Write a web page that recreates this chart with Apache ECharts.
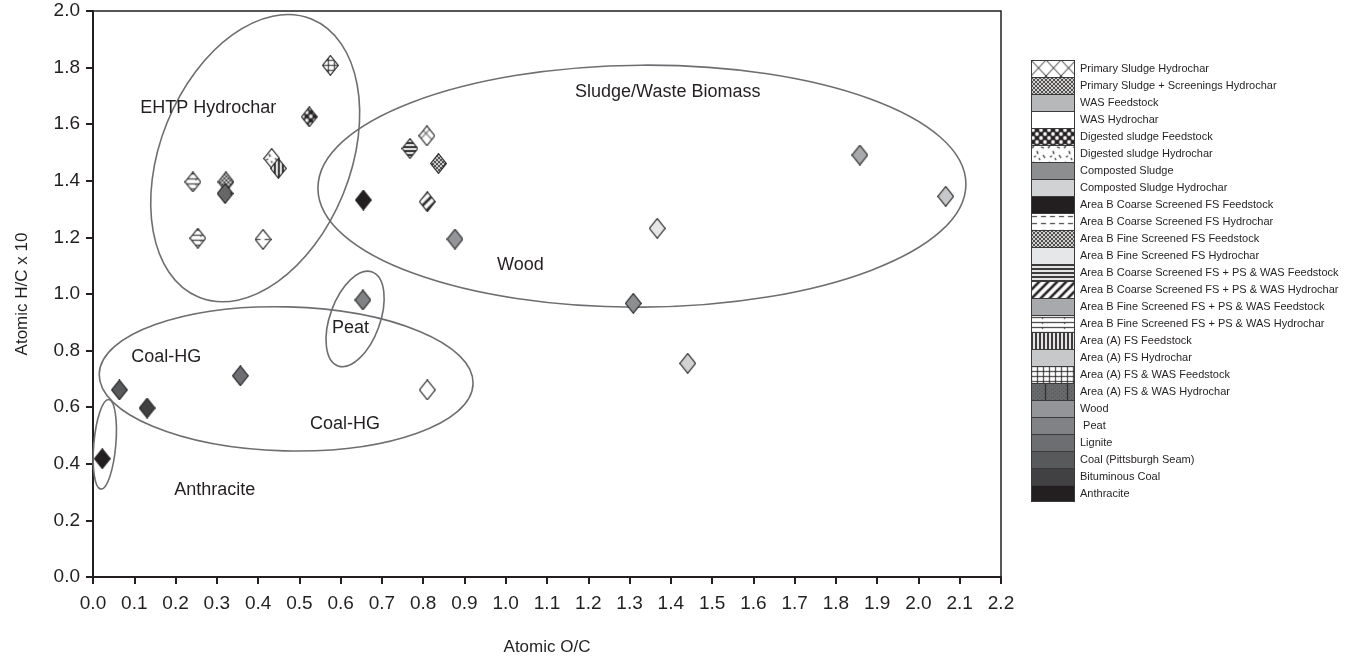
<!DOCTYPE html>
<html><head><meta charset="utf-8">
<script src="https://cdn.jsdelivr.net/npm/echarts@6/dist/echarts.min.js"></script>
<style>html,body{margin:0;padding:0;background:#fff}#c{width:1372px;height:662px}</style>
</head><body><div id="c"></div>
<script>
// ---------------- DATA ----------------
const seriesNames = [
  'Primary Sludge Hydrochar',
  'Primary Sludge + Screenings Hydrochar',
  'WAS Feedstock',
  'WAS Hydrochar',
  'Digested sludge Feedstock',
  'Digested sludge Hydrochar',
  'Composted Sludge',
  'Composted Sludge Hydrochar',
  'Area B Coarse Screened FS Feedstock',
  'Area B Coarse Screened FS Hydrochar',
  'Area B Fine Screened FS Feedstock',
  'Area B Fine Screened FS Hydrochar',
  'Area B Coarse Screened FS + PS & WAS Feedstock',
  'Area B Coarse Screened FS + PS & WAS Hydrochar',
  'Area B Fine Screened FS + PS & WAS Feedstock',
  'Area B Fine Screened FS + PS & WAS Hydrochar',
  'Area (A) FS Feedstock',
  'Area (A) FS Hydrochar',
  'Area (A) FS & WAS Feedstock',
  'Area (A) FS & WAS Hydrochar',
  'Wood',
  ' Peat',
  'Lignite',
  'Coal (Pittsburgh Seam)',
  'Bituminous Coal',
  'Anthracite'
];
// each point: which series it belongs to, atomic O/C, atomic H/C
const pointSeries = [0, 1, 3, 4, 5, 6, 7, 8, 9, 10, 11, 12, 13, 14, 15, 15, 16, 17, 18, 19, 20, 21, 22, 23, 24, 25];
const pointOC = [0.809, 0.322, 0.810, 0.524, 0.433, 1.309, 1.441, 0.655, 0.412, 0.837, 1.367, 0.768, 0.810, 1.858, 0.242, 0.254, 0.449, 2.066, 0.575, 0.320, 0.877, 0.654, 0.357, 0.064, 0.131, 0.0225];
const pointHC = [1.559, 1.396, 0.661, 1.626, 1.479, 0.967, 0.755, 1.332, 1.193, 1.461, 1.232, 1.514, 1.326, 1.491, 1.396, 1.197, 1.444, 1.345, 1.808, 1.355, 1.194, 0.979, 0.711, 0.661, 0.597, 0.418];

// region annotations (data coordinates)
const regionLabels = ['EHTP Hydrochar', 'Sludge/Waste Biomass', 'Wood', 'Peat', 'Coal-HG', 'Coal-HG', 'Anthracite'];
const regionLabelOC = [0.1145, 1.168, 0.979, 0.579, 0.0927, 0.526, 0.197];
const regionLabelHC = [1.657, 1.713, 1.102, 0.880, 0.776, 0.541, 0.307];

const ellipseOC = [0.393, 1.330, 0.635, 0.468, 0.0286];
const ellipseHC = [1.480, 1.381, 0.912, 0.700, 0.469];

const xTicks = {min: 0, max: 2.2, interval: 0.1};
const yTicks = {min: 0, max: 2.0, interval: 0.2};

// ---------------- STYLES ----------------
const ellipseStyle = [
  {rx: 95, ry: 150, rot: -22},
  {rx: 324, ry: 121, rot: 0.4},
  {rx: 25, ry: 50, rot: -20},
  {rx: 187, ry: 72, rot: -1.5},
  {rx: 11, ry: 45, rot: -5}
];
const fills = [
  'x', 'checker', '#b7b8ba', '#ffffff', 'dots', 'confetti', '#8d8e90', '#d1d2d4',
  '#231f20', 'dash', 'checker', '#e6e7e8', 'hthick', 'diag', '#a7a9ac', 'hthin',
  'vstripe', '#c7c8ca', 'grid', 'darkstip', '#939598', '#808285', '#6d6e71', '#58595b', '#414042', '#231f20'
];
const INK = '#231f20';
const FONT = 'Liberation Sans, Arial, Helvetica, sans-serif';
const S = 2; // supersampling

function tile(w, h, draw) {
  const c = document.createElement('canvas');
  c.width = w; c.height = h;
  const g = c.getContext('2d');
  draw(g, w, h);
  return c;
}
const tiles = {
  x: tile(15, 16, (g, w, h) => { g.fillStyle = '#fff'; g.fillRect(0,0,w,h); g.strokeStyle = INK; g.lineWidth = 1;
        g.beginPath(); g.moveTo(0,0); g.lineTo(w,h); g.moveTo(w,0); g.lineTo(0,h); g.stroke(); }),
  checker: tile(4, 4, (g) => { g.fillStyle = '#fff'; g.fillRect(0,0,4,4); g.fillStyle = INK; g.fillRect(0,0,2,2); g.fillRect(2,2,2,2); g.fillRect(1,1,1,1); }),
  dots: tile(8, 8, (g) => { g.fillStyle = INK; g.fillRect(0,0,8,8); g.fillStyle = '#fff';
        g.beginPath(); g.arc(2,2,1.9,0,Math.PI*2); g.fill(); g.beginPath(); g.arc(6,6,1.9,0,Math.PI*2); g.fill(); }),
  confetti: tile(16, 16, (g) => { g.fillStyle = '#fff'; g.fillRect(0,0,16,16); g.strokeStyle = INK; g.lineWidth = 1.2;
        const segs = [[1,3,3,1],[6,6,7,9],[10,2,13,3],[12,10,14,13],[3,12,5,11],[8,13,9,15]];
        g.beginPath(); segs.forEach(s => { g.moveTo(s[0],s[1]); g.lineTo(s[2],s[3]); }); g.stroke(); }),
  dash: tile(9, 7, (g) => { g.fillStyle = '#fff'; g.fillRect(0,0,9,7); g.fillStyle = INK; g.fillRect(1,3,5,1); }),
  hthick: tile(1, 4, (g) => { g.fillStyle = '#fff'; g.fillRect(0,0,1,4); g.fillStyle = INK; g.fillRect(0,0,1,2); }),
  diag: tile(9, 9, (g) => { g.fillStyle = '#fff'; g.fillRect(0,0,9,9); g.strokeStyle = INK; g.lineWidth = 2.6;
        g.beginPath(); g.moveTo(-1,10); g.lineTo(10,-1); g.moveTo(-5,5); g.lineTo(5,-5); g.moveTo(4,14); g.lineTo(14,4); g.stroke(); }),
  hthin: tile(22, 5, (g) => { g.fillStyle = '#fff'; g.fillRect(0,0,22,5); g.fillStyle = INK; g.fillRect(0,2,22,1); g.fillRect(11,3,1,1); }),
  vstripe: tile(4, 1, (g) => { g.fillStyle = '#fff'; g.fillRect(0,0,4,1); g.fillStyle = INK; g.fillRect(0,0,2,1); }),
  grid: tile(6, 5, (g) => { g.fillStyle = '#fff'; g.fillRect(0,0,6,5); g.fillStyle = INK; g.fillRect(0,0,6,1); g.fillRect(0,0,1,5); }),
  darkstip: tile(22, 4, (g) => { g.fillStyle = '#6a6b6d'; g.fillRect(0,0,22,4); g.fillStyle = '#4a4b4d';
        for (let i = 0; i < 22; i += 2) { g.fillRect(i, (i/2)%2 ? 0 : 2, 1, 1); } g.fillStyle = INK; g.fillRect(14,0,1,4); })
};
function paintFill(g, kind) {
  if (tiles[kind]) { g.fillStyle = g.createPattern(tiles[kind], 'repeat'); }
  else { g.fillStyle = kind; }
  g.fill();
}
function markerImage(kind) {
  const w = 17, h = 21;
  const c = document.createElement('canvas'); c.width = w*S; c.height = h*S;
  const g = c.getContext('2d'); g.scale(S, S);
  g.beginPath(); g.moveTo(w/2, 0.6); g.lineTo(w-0.6, h/2); g.lineTo(w/2, h-0.6); g.lineTo(0.6, h/2); g.closePath();
  paintFill(g, kind);
  g.strokeStyle = '#262626'; g.lineWidth = 1.1; g.stroke();
  return 'image://' + c.toDataURL();
}
function legendImage(kind, last) {
  const w = 44, h = 17;
  const c = document.createElement('canvas'); c.width = w*S; c.height = h*S;
  const g = c.getContext('2d'); g.scale(S, S);
  g.beginPath(); g.rect(0, 0, w, h);
  paintFill(g, kind);
  g.strokeStyle = '#3a3a3a'; g.lineWidth = 1;
  g.beginPath(); g.moveTo(0.5, h + (last ? -0.5 : 0)); g.lineTo(0.5, 0.5); g.lineTo(w-0.5, 0.5); g.lineTo(w-0.5, h + (last ? -0.5 : 0));
  if (last) g.lineTo(0.5, h-0.5);
  g.stroke();
  return 'image://' + c.toDataURL();
}

// ---------------- CHART ----------------
const chart = echarts.init(document.getElementById('c'), null, {renderer: 'canvas'});

const scatterSeries = seriesNames.map((name, si) => ({
  type: 'scatter',
  name: name,
  symbol: markerImage(fills[si]),
  symbolSize: [17, 21],
  z: 3,
  silent: true,
  itemStyle: {opacity: 1},
  emphasis: {disabled: true},
  data: pointSeries.map((s, k) => s === si ? [pointOC[k], pointHC[k]] : null).filter(d => d)
}));

const ellipseSeries = {
  type: 'custom',
  name: '_ellipses',
  z: 2,
  silent: true,
  data: ellipseOC.map((x, i) => [x, ellipseHC[i]]),
  renderItem: (params, api) => {
    const p = api.coord([api.value(0), api.value(1)]);
    const st = ellipseStyle[params.dataIndex];
    return {
      type: 'ellipse', x: p[0], y: p[1], rotation: st.rot * Math.PI / 180,
      shape: {cx: 0, cy: 0, rx: st.rx, ry: st.ry},
      style: {fill: null, stroke: '#6d6e71', lineWidth: 1.6}
    };
  }
};
const labelSeries = {
  type: 'custom',
  name: '_labels',
  z: 4,
  silent: true,
  data: regionLabelOC.map((x, i) => [x, regionLabelHC[i]]),
  renderItem: (params, api) => {
    const p = api.coord([api.value(0), api.value(1)]);
    return {
      type: 'text', x: p[0], y: p[1],
      style: {text: regionLabels[params.dataIndex], fill: INK, fontSize: 18, fontFamily: FONT,
              textAlign: 'left', verticalAlign: 'middle', textVerticalAlign: 'middle'}
    };
  }
};

const axisCommon = {
  type: 'value',
  axisLine: {show: true, onZero: false, lineStyle: {color: INK, width: 2}},
  axisTick: {show: true, inside: false, length: 7, lineStyle: {color: INK, width: 2}},
  splitLine: {show: false},
  nameLocation: 'middle',
  nameTextStyle: {fontSize: 17, color: INK, fontFamily: FONT}
};

chart.setOption({
  animation: false,
  textStyle: {fontFamily: FONT},
  grid: {left: 93, right: 371, top: 11, bottom: 85, show: true, borderColor: INK, borderWidth: 1.5, backgroundColor: 'transparent'},
  xAxis: Object.assign({}, axisCommon, {
    min: xTicks.min, max: xTicks.max, interval: xTicks.interval,
    name: 'Atomic O/C', nameGap: 62,
    axisLabel: {fontSize: 19, color: INK, margin: 17, formatter: v => v.toFixed(1)}
  }),
  yAxis: Object.assign({}, axisCommon, {
    min: yTicks.min, max: yTicks.max, interval: yTicks.interval,
    name: 'Atomic H/C x 10', nameGap: 62,
    axisLabel: {fontSize: 19, color: INK, margin: 13, formatter: v => v.toFixed(1)}
  }),
  legend: {
    orient: 'vertical', left: 1031, top: 60, padding: 0,
    itemWidth: 44, itemHeight: 17, itemGap: 0,
    selectedMode: false,
    itemStyle: {opacity: 1},
    textStyle: {fontSize: 11, color: INK, fontFamily: FONT},
    data: seriesNames.map((n, i) => ({name: n, icon: legendImage(fills[i], i === seriesNames.length - 1)}))
  },
  series: [ellipseSeries].concat(scatterSeries, [labelSeries])
});
</script>
</body></html>
